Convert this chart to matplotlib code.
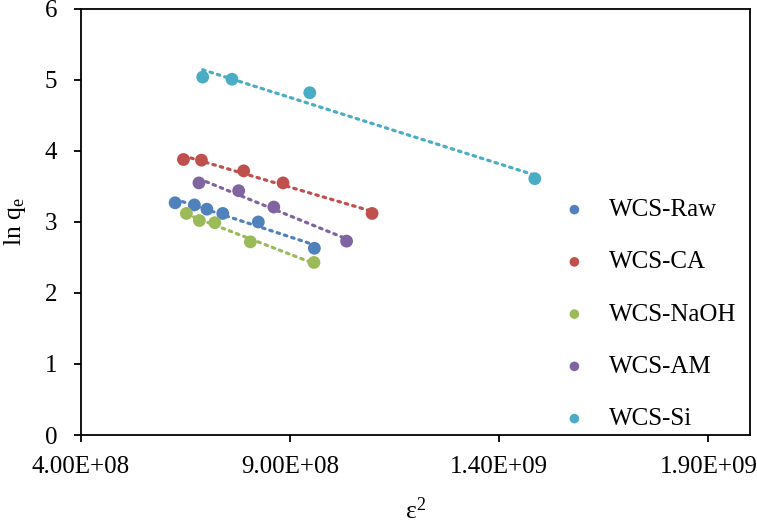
import numpy as np
import matplotlib
matplotlib.use("Agg")
import matplotlib.pyplot as plt

plt.rcParams['font.family'] = ['Liberation Serif', 'DejaVu Serif']
plt.rcParams['mathtext.fontset'] = 'custom'
plt.rcParams['mathtext.rm'] = 'Liberation Serif'
plt.rcParams['mathtext.it'] = 'Liberation Serif:italic'

series_names = ["WCS-Raw", "WCS-CA", "WCS-NaOH", "WCS-AM", "WCS-Si"]
colors = ["#4F81BD", "#C0504D", "#9BBB59", "#8064A2", "#4BACC6"]

raw_x = [6.25e8, 6.71e8, 7.01e8, 7.39e8, 8.24e8, 9.58e8]
raw_y = [3.27, 3.24, 3.18, 3.12, 3.00, 2.63]
ca_x = [6.45e8, 6.88e8, 7.89e8, 8.83e8, 1.096e9]
ca_y = [3.88, 3.87, 3.72, 3.55, 3.12]
naoh_x = [6.52e8, 6.83e8, 7.20e8, 8.05e8, 9.57e8]
naoh_y = [3.12, 3.02, 2.99, 2.72, 2.43]
am_x = [6.82e8, 7.77e8, 8.61e8, 1.035e9]
am_y = [3.55, 3.44, 3.21, 2.73]
si_x = [6.91e8, 7.61e8, 9.47e8, 1.485e9]
si_y = [5.04, 5.01, 4.82, 3.61]

xs = [raw_x, ca_x, naoh_x, am_x, si_x]
ys = [raw_y, ca_y, naoh_y, am_y, si_y]

x_ticks = [4.0e8, 9.0e8, 1.4e9, 1.9e9]
x_ticklabels = ["4.00E+08", "9.00E+08", "1.40E+09", "1.90E+09"]
y_ticks = [0, 1, 2, 3, 4, 5, 6]

fig = plt.figure(figsize=(7.57, 5.25), dpi=100)
ax = fig.add_axes([0.107, 0.1714, 0.884, 0.8116])

for x, y, c, n in zip(xs, ys, colors, series_names):
    x = np.array(x); y = np.array(y)
    m, b = np.polyfit(x, y, 1)
    xx = np.array([x.min(), x.max()])
    ax.plot(xx, m * xx + b, color=c, lw=2.3, linestyle=(0, (0.8, 1.6)),
            dash_capstyle='round', zorder=2)
    ax.scatter(x, y, s=85, color=c, edgecolors='none', zorder=3, label=n)

ax.set_xlim(4.0e8, 2.0e9)
ax.set_ylim(0, 6)
ax.set_xticks(x_ticks)
ax.set_xticklabels(x_ticklabels)
ax.set_yticks(y_ticks)
ax.tick_params(axis='both', labelsize=18, direction='out', length=5, width=1.3, color='black')
ax.tick_params(axis='x', pad=10)
ax.tick_params(axis='y', pad=12)
for s in ax.spines.values():
    s.set_linewidth(1.3)
    s.set_color('black')

ax.set_xlabel("ε$^2$", fontsize=18.5, labelpad=14)
ax.set_ylabel("ln q$_\\mathrm{e}$", fontsize=18.5, labelpad=12)

leg = ax.legend(loc='center left', bbox_to_anchor=(0.685, 0.283), frameon=False,
                fontsize=18, labelspacing=1.19, handletextpad=0.9,
                markerscale=0.75, handlelength=1.0)

fig.savefig("out.png", dpi=100)
